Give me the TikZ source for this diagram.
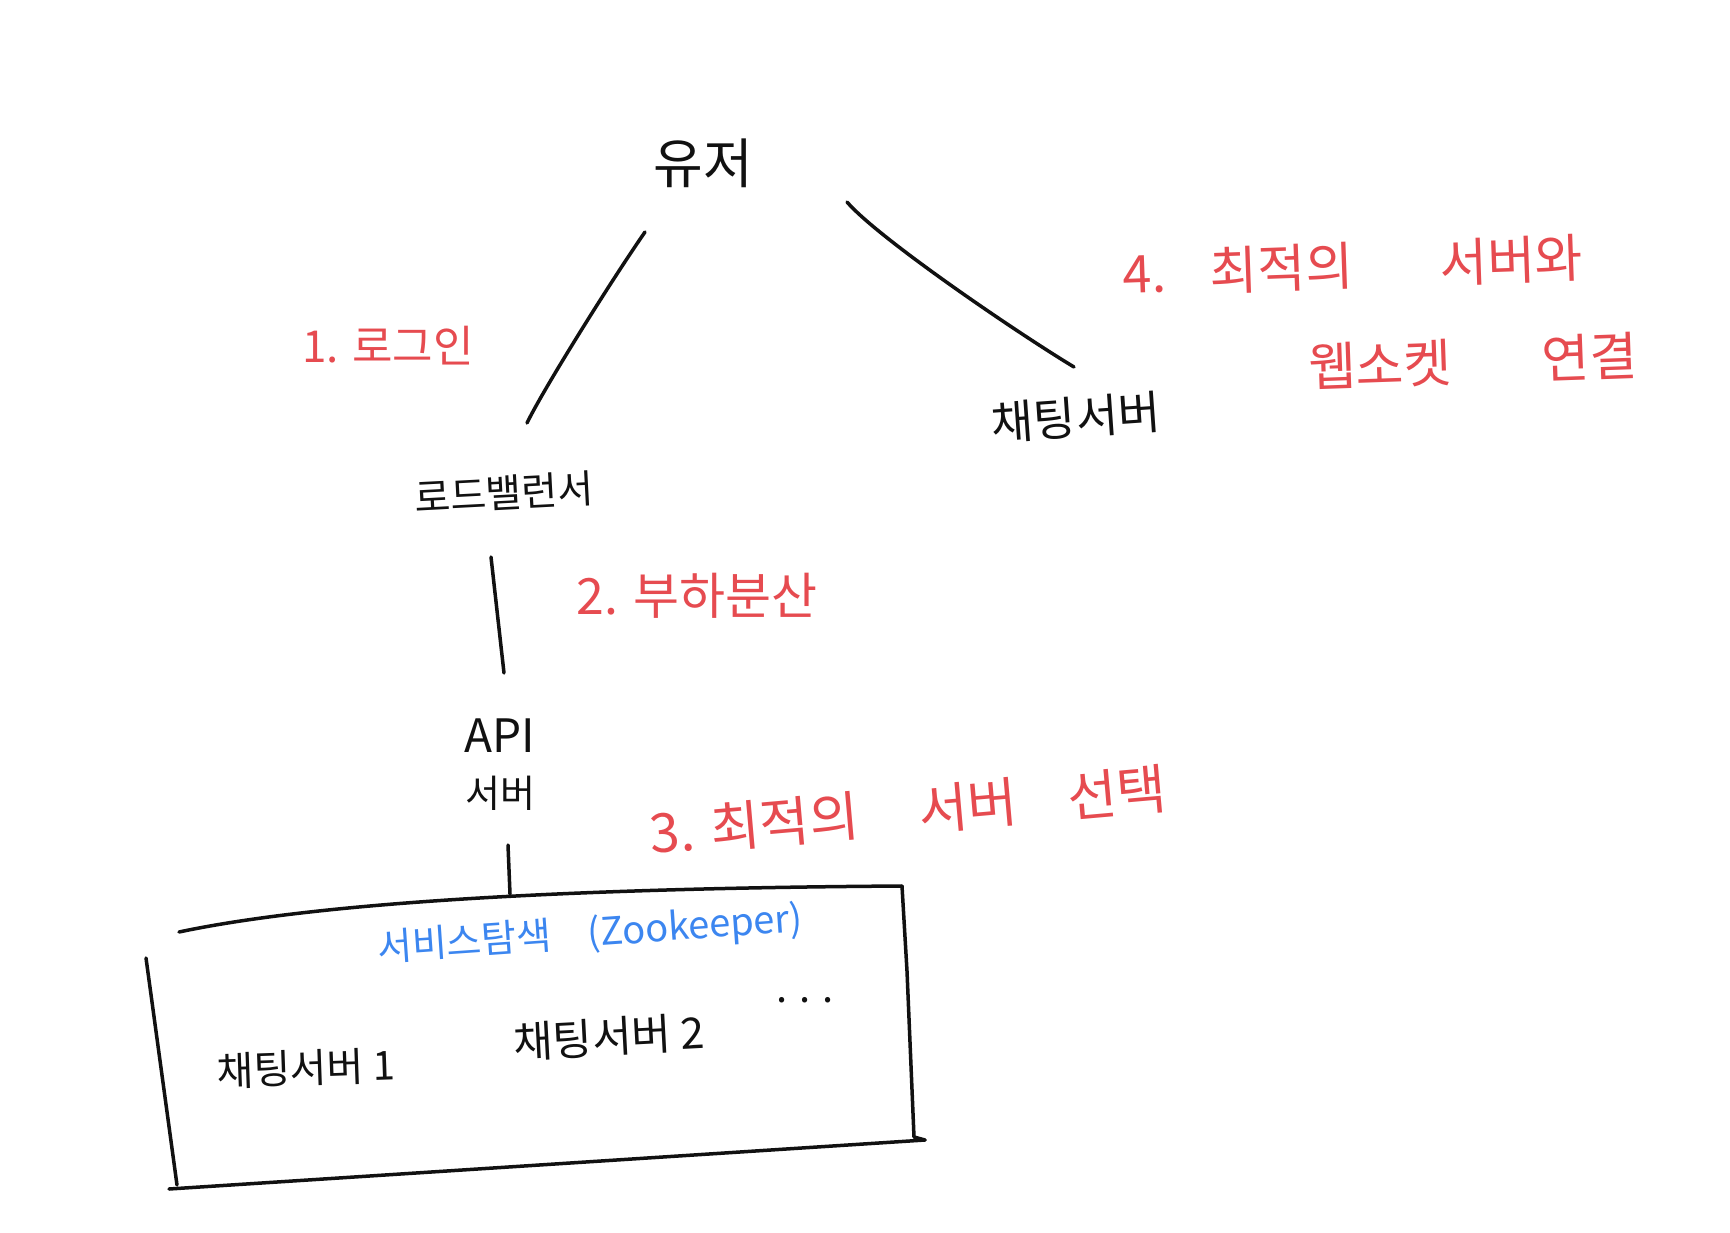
\documentclass[tikz,border=0pt]{standalone}
\usepackage{fontspec}
\setmainfont{Noto Sans CJK KR}
\definecolor{pen}{HTML}{111111}
\definecolor{redink}{HTML}{E64B50}
\definecolor{blueink}{HTML}{3C86F0}
\tikzset{
  stroke/.style={line width=3.5pt, line cap=round, line join=round, draw=pen},
  blk/.style={text=pen, inner sep=0pt},
  note/.style={text=redink, inner sep=0pt},
  bluenote/.style={text=blueink, inner sep=0pt},
}
\newcommand{\fsz}[1]{\fontsize{#1}{#1}\selectfont}
\begin{document}
\begin{tikzpicture}[x=1pt,y=-1pt]
\fill[white] (0,0) rectangle (1730,1232);
\useasboundingbox (0,0) rectangle (1730,1232);

% black labels
\node[blk,font=\fsz{54}] (user) at (703,163) {유저};
\node[blk,font=\fsz{39},rotate=3] (lb) at (504,493) {로드밸런서};
\node[blk,font=\fsz{46},rotate=4] (chat) at (1076,417) {채팅서버};
\node[blk,align=center,font=\fontsize{38}{55}\selectfont] (api) at (500,765) {{\fontsize{46}{55}\selectfont API}\\서버};

% red notes
\node[note,font=\fsz{44}] (n1) at (388,346) {1. 로그인};
\node[note,font=\fsz{50}] (n2) at (697,596) {2. 부하분산};
\node[note,font=\fsz{54},rotate=5] (n3) at (908,811) {3. 최적의\hspace{60pt}서버\hspace{50pt}선택};
\node[note,align=left,anchor=north west,font=\fontsize{52}{100}\selectfont,rotate=2] (n4) at (1122,250)
  {4.\hspace{44pt}최적의\hspace{86pt}서버와\\\hspace*{182pt}웹소켓\hspace{90pt}연결};

% connectors
\draw[stroke] ([shift={(-58,69)}]user.center) .. controls ([shift={(-90,115)}]user.center) and ([shift={(40,-105)}]lb.center) .. ([shift={(23,-70)}]lb.center);
\draw[stroke] ([shift={(144,39)}]user.center) .. controls ([shift={(175,75)}]user.center) and ([shift={(-60,-85)}]chat.center) .. ([shift={(-2,-50)}]chat.center);
\draw[stroke] ([shift={(-13,64)}]lb.center) -- ([shift={(4,-92)}]api.center);

% service discovery box
\coordinate (boxtop) at (510,894);
\draw[stroke] (179,932) .. controls (330,900) and (600,888) .. (902,886);
\draw[stroke] (902,886) -- (907,971) -- (914,1137) -- (925,1140);
\draw[stroke] (925,1140) -- (169,1189);
\draw[stroke] (146,958) -- (177,1185);
\draw[stroke] ([shift={(8,80)}]api.center) -- (boxtop);

\node[bluenote,font=\fsz{38},rotate=4] (zk) at (590,935) {서비스탐색\hspace{36pt}(Zookeeper)};
\node[blk,font=\fsz{40},rotate=2] (cs1) at (306,1068) {채팅서버 1};
\node[blk,font=\fsz{43},rotate=3] (cs2) at (609,1037) {채팅서버 2};
\node[blk,font=\fsz{40}] (more) at (805,1000) {. . .};
\end{tikzpicture}
\end{document}
